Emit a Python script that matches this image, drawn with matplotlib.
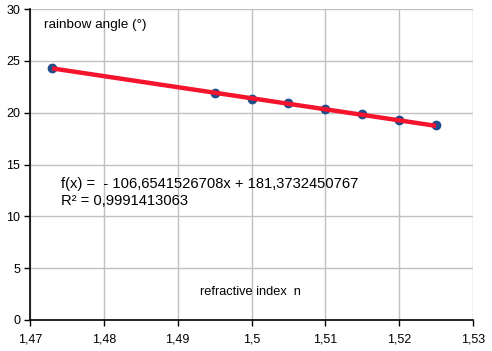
import numpy as np
import matplotlib.pyplot as plt
from matplotlib.ticker import FuncFormatter

plt.rcParams['font.family'] = ['Liberation Sans', 'DejaVu Sans']

# data
refr_index = [1.473, 1.495, 1.500, 1.505, 1.510, 1.515, 1.520, 1.525]
rainbow_angle = [24.33, 21.93, 21.28, 20.90, 20.35, 19.83, 19.32, 18.83]
slope = -106.6541526708
intercept = 181.3732450767
r_squared = 0.9991413063

x_ticks = [1.47, 1.48, 1.49, 1.50, 1.51, 1.52, 1.53]
y_ticks = [0, 5, 10, 15, 20, 25, 30]

fig = plt.figure(figsize=(4.92, 3.51), dpi=100)
ax = fig.add_axes([30 / 492, 31 / 351, 443 / 492, 311 / 351])

ax.set_xlim(1.47, 1.53)
ax.set_ylim(0, 30)
ax.set_xticks(x_ticks)
ax.set_yticks(y_ticks)


def comma_fmt(v, pos):
    s = ('%.2f' % v).rstrip('0').rstrip('.')
    return s.replace('.', ',')


ax.xaxis.set_major_formatter(FuncFormatter(comma_fmt))
ax.grid(True, color='#c0c0c0', linewidth=1)
ax.set_axisbelow(True)

for side in ['top', 'right']:
    ax.spines[side].set_visible(False)
ax.spines['left'].set_linewidth(1.2)
ax.spines['bottom'].set_linewidth(1.2)
ax.tick_params(direction='out', length=4, width=1, labelsize=9)
ax.tick_params(axis='x', pad=6)
ax.tick_params(axis='y', pad=3)

# markers
ax.plot(refr_index, rainbow_angle, 'o', color='#1f4e8c', markersize=6,
        zorder=3, clip_on=False)

# trend line
xs = np.array([refr_index[0], refr_index[-1]])
ax.plot(xs, slope * xs + intercept, color='#f5142e', linewidth=3.2,
        solid_capstyle='butt', zorder=4)

ax.text(0.0316, 0.95, 'rainbow angle (°)', transform=ax.transAxes,
        fontsize=9.7, va='center', ha='left')
ax.text(0.497, 0.09, 'refractive index  n', transform=ax.transAxes,
        fontsize=9.2, va='center', ha='center')
ax.text(0.071, 0.41,
        'f(x) =  - ' + ('%.10f' % -slope).replace('.', ',') + 'x + '
        + ('%.10f' % intercept).replace('.', ',') + '\nR² = '
        + ('%.10f' % r_squared).replace('.', ','),
        transform=ax.transAxes, fontsize=10.6, va='center', ha='left',
        linespacing=1.2)

fig.savefig('out.png', dpi=100)
